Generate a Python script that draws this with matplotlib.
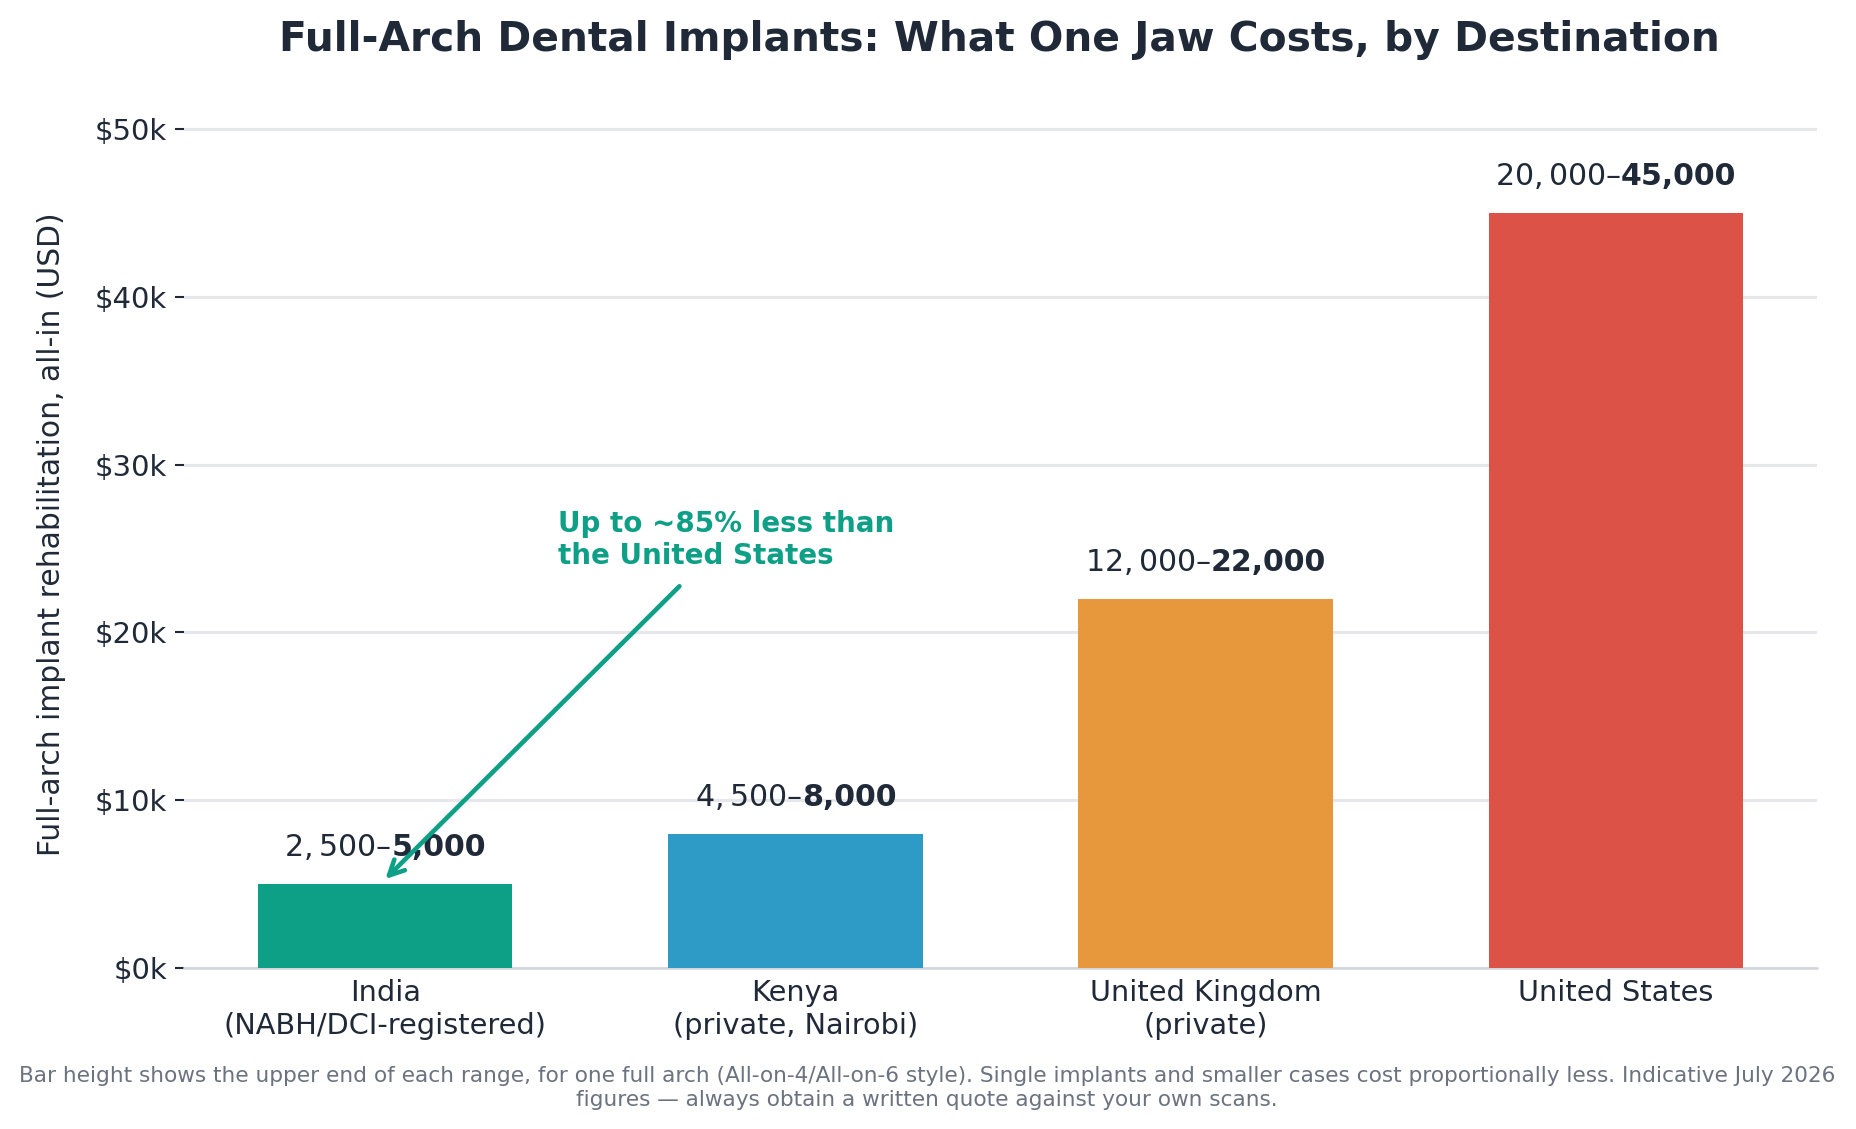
import matplotlib
matplotlib.use("Agg")
import matplotlib.pyplot as plt
from matplotlib.offsetbox import TextArea, HPacker, AnnotationBbox
from matplotlib.ticker import FuncFormatter

# ---- data ----
categories = ["India\n(NABH/DCI-registered)", "Kenya\n(private, Nairobi)",
              "United Kingdom\n(private)", "United States"]
low_values = [2500, 4500, 12000, 20000]
high_values = [5000, 8000, 22000, 45000]
bar_colors = ["#0e9f87", "#2e9bc6", "#e8983c", "#dc5247"]
yticks = [0, 10000, 20000, 30000, 40000, 50000]

TEXT = "#1f2937"
fig = plt.figure(figsize=(1856/150, 1129/150), dpi=150)
ax = fig.add_axes([184/1856, 1-968/1129, 1633/1856, (968-99.7)/1129])

x = list(range(len(categories)))
ax.bar(x, high_values, width=0.62, color=bar_colors, zorder=3)
ax.set_ylim(0, max(high_values)*1.15)
ax.set_yticks(yticks)
ax.yaxis.set_major_formatter(FuncFormatter(lambda v, p: f"${v/1000:.0f}k"))
ax.set_xticks(x)
ax.set_xticklabels(categories)
ax.grid(axis="y", color="#e5e7eb", linewidth=1.5, zorder=0)
ax.set_axisbelow(True)
for s in ["top", "right", "left"]:
    ax.spines[s].set_visible(False)
ax.spines["bottom"].set_color("#d1d5db")
ax.spines["bottom"].set_linewidth(1.2)
ax.tick_params(axis="y", labelsize=14, colors=TEXT, length=4.5, width=1.0)
ax.tick_params(axis="x", labelsize=13.8, colors=TEXT, length=0, pad=5.5)
ax.set_ylabel("Full-arch implant rehabilitation, all-in (USD)", fontsize=14.3, color=TEXT, labelpad=14)

for xi, lo, hi in zip(x, low_values, high_values):
    t1 = TextArea(f"${lo:,}–$", textprops=dict(fontsize=14.4, color=TEXT))
    t2 = TextArea(f"{hi:,}", textprops=dict(fontsize=14.4, color=TEXT, fontweight="bold"))
    box = HPacker(children=[t1, t2], sep=0, pad=0, align="baseline")
    ab = AnnotationBbox(box, (xi, hi), xybox=(0, 10.5), xycoords="data",
                        boxcoords="offset points", box_alignment=(0.5, 0.0),
                        frameon=False, pad=0)
    ax.add_artist(ab)

ax.annotate("Up to ~85% less than\nthe United States", xy=(0, 5300), xytext=(0.42, 25500),
            fontsize=13.3, fontweight="bold", color="#0e9f87", ha="left", va="center",
            arrowprops=dict(arrowstyle="->", color="#0e9f87", lw=2.2, shrinkA=8, shrinkB=0,
                            mutation_scale=18))

fig.text(999/1856, 1-40.5/1129, "Full-Arch Dental Implants: What One Jaw Costs, by Destination",
         fontsize=19.55, fontweight="bold", color=TEXT, ha="center", va="center")
fig.text(0.4995, 0.0364,
         "Bar height shows the upper end of each range, for one full arch (All-on-4/All-on-6 style). "
         "Single implants and smaller cases cost proportionally less. Indicative July 2026\n"
         "figures — always obtain a written quote against your own scans.",
         fontsize=10.4, color="#6b7280", ha="center", va="center")

fig.savefig("out.png", dpi=150)
